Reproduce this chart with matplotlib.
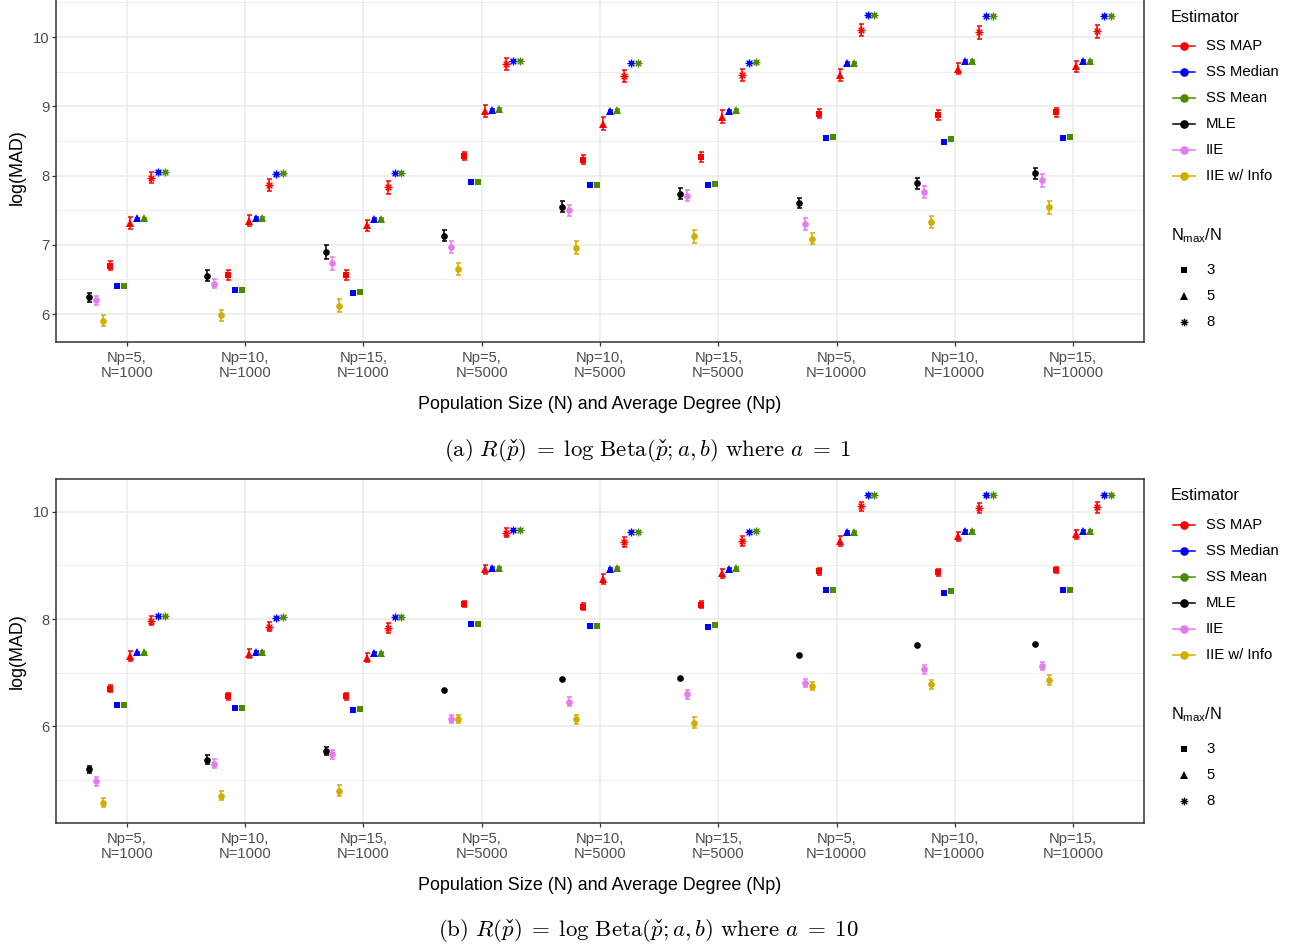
import numpy as np
import matplotlib
matplotlib.use("Agg")
import matplotlib.pyplot as plt
from matplotlib.lines import Line2D
from matplotlib.path import Path
from matplotlib.ticker import MultipleLocator

plt.rcParams["font.family"] = ["Liberation Sans", "DejaVu Sans"]

# mathtext has no \check accent out of the box; register the caron
try:
    import matplotlib._mathtext as _mt
    _mt.Parser._accent_map.setdefault("check", r"\check")
except (ImportError, AttributeError):
    pass

categories = ["Np=5,\nN=1000", "Np=10,\nN=1000", "Np=15,\nN=1000",
              "Np=5,\nN=5000", "Np=10,\nN=5000", "Np=15,\nN=5000",
              "Np=5,\nN=10000", "Np=10,\nN=10000", "Np=15,\nN=10000"]

# spectral-sum estimators (same runs in both settings), per N_max/N
ss_map_3 = [6.70, 6.56, 6.56, 8.28, 8.23, 8.27, 8.89, 8.87, 8.91]
ss_map_3_err = [0.065, 0.07, 0.07, 0.06, 0.07, 0.07, 0.065, 0.07, 0.06]
ss_median_3 = [6.40, 6.34, 6.30, 7.91, 7.87, 7.86, 8.54, 8.49, 8.54]
ss_mean_3 = [6.40, 6.35, 6.32, 7.91, 7.87, 7.88, 8.55, 8.53, 8.55]
ss_map_5 = [7.31, 7.35, 7.28, 8.93, 8.75, 8.85, 9.45, 9.54, 9.58]
ss_map_5_err = [0.085, 0.085, 0.08, 0.085, 0.09, 0.09, 0.09, 0.08, 0.08]
ss_median_5 = [7.38, 7.39, 7.37, 8.95, 8.93, 8.93, 9.62, 9.65, 9.65]
ss_mean_5 = [7.38, 7.39, 7.37, 8.96, 8.95, 8.95, 9.63, 9.65, 9.65]
ss_map_8 = [7.97, 7.86, 7.83, 9.61, 9.44, 9.45, 10.10, 10.07, 10.08]
ss_map_8_err = [0.08, 0.085, 0.09, 0.085, 0.09, 0.09, 0.09, 0.095, 0.10]
ss_median_8 = [8.05, 8.02, 8.03, 9.66, 9.63, 9.63, 10.32, 10.31, 10.31]
ss_mean_8 = [8.05, 8.03, 8.04, 9.66, 9.63, 9.64, 10.32, 10.31, 10.31]
ss_small_err = [0.012, 0.012, 0.012, 0.012, 0.012, 0.012, 0.012, 0.012, 0.012]

# (a) a = 1
mle_a = [6.24, 6.55, 6.90, 7.13, 7.55, 7.74, 7.60, 7.89, 8.03]
mle_a_err = [0.07, 0.08, 0.10, 0.08, 0.08, 0.075, 0.07, 0.08, 0.08]
iie_a = [6.20, 6.44, 6.73, 6.97, 7.50, 7.71, 7.30, 7.76, 7.93]
iie_a_err = [0.065, 0.07, 0.10, 0.09, 0.08, 0.08, 0.085, 0.09, 0.09]
info_a = [5.90, 5.98, 6.12, 6.65, 6.96, 7.12, 7.09, 7.33, 7.54]
info_a_err = [0.08, 0.08, 0.09, 0.08, 0.09, 0.10, 0.075, 0.09, 0.09]

# (b) a = 10
mle_b = [5.20, 5.38, 5.54, 6.67, 6.88, 6.90, 7.33, 7.52, 7.54]
mle_b_err = [0.07, 0.08, 0.075, 0.02, 0.02, 0.02, 0.02, 0.02, 0.02]
iie_b = [4.98, 5.30, 5.48, 6.14, 6.46, 6.60, 6.80, 7.06, 7.12]
iie_b_err = [0.085, 0.085, 0.085, 0.08, 0.085, 0.085, 0.075, 0.08, 0.075]
info_b = [4.58, 4.71, 4.80, 6.14, 6.13, 6.07, 6.75, 6.78, 6.86]
info_b_err = [0.08, 0.09, 0.10, 0.07, 0.08, 0.11, 0.075, 0.075, 0.09]

est_names = ["SS MAP", "SS Median", "SS Mean", "MLE", "IIE", "IIE w/ Info"]
est_colors = {"SS MAP": "#FF0000", "SS Median": "#0000FF", "SS Mean": "#4A8C00",
              "MLE": "#000000", "IIE": "#E67BF0", "IIE w/ Info": "#D1AE00"}
ratios = ["3", "5", "8"]

# R shape 8: a '+' laid over an 'x'
_d = np.sqrt(0.5)
ASTERISK = Path([(-1, 0), (1, 0), (0, -1), (0, 1),
                 (-_d, -_d), (_d, _d), (-_d, _d), (_d, -_d)],
                [Path.MOVETO, Path.LINETO] * 4)
MARKERS = {"circle": ("o", 4.8), "3": ("s", 4.6), "5": ("^", 5.6), "8": (ASTERISK, 5.8)}

W, H = 1298, 951


def series_for(mle, mle_err, iie, iie_err, info, info_err):
    return [
        ("MLE", "circle", mle, mle_err),
        ("IIE", "circle", iie, iie_err),
        ("IIE w/ Info", "circle", info, info_err),
        ("SS MAP", "3", ss_map_3, ss_map_3_err),
        ("SS Median", "3", ss_median_3, ss_small_err),
        ("SS Mean", "3", ss_mean_3, ss_small_err),
        ("SS MAP", "5", ss_map_5, ss_map_5_err),
        ("SS Median", "5", ss_median_5, ss_small_err),
        ("SS Mean", "5", ss_mean_5, ss_small_err),
        ("SS MAP", "8", ss_map_8, ss_map_8_err),
        ("SS Median", "8", ss_median_8, ss_small_err),
        ("SS Mean", "8", ss_mean_8, ss_small_err),
    ]


def marker_kw(shape, color):
    m, ms = MARKERS[shape]
    if shape == "8":
        return dict(marker=m, ms=ms, mec=color, mfc="none", mew=1.0)
    return dict(marker=m, ms=ms, mfc=color, mec=color, mew=0)


def draw_panel(ax, series, ylim, ystep):
    x = np.arange(1, len(categories) + 1)
    n = len(series)
    dodge = 0.7 / n
    for i, (name, shape, vals, err) in enumerate(series):
        xs = x + (i - (n - 1) / 2) * dodge
        c = est_colors[name]
        ax.errorbar(xs, vals, yerr=err, fmt="none", ecolor=c, elinewidth=1.1,
                    capsize=1.8, capthick=1.1, zorder=3)
        ax.plot(xs, vals, ls="none", zorder=4, **marker_kw(shape, c))

    ax.set_xlim(0.4, len(categories) + 0.6)
    ax.set_ylim(*ylim)
    ax.set_xticks(x)
    ax.set_xticklabels(categories, linespacing=1.1)
    ax.yaxis.set_major_locator(MultipleLocator(ystep))
    ax.yaxis.set_minor_locator(MultipleLocator(ystep / 2))
    ax.grid(which="major", color="#EBEBEB", lw=1.1, zorder=0)
    ax.grid(which="minor", axis="y", color="#EBEBEB", lw=0.6, zorder=0)
    ax.set_axisbelow(True)
    ax.tick_params(which="major", length=2.9, width=0.9, color="#333333",
                   labelsize=10.6, labelcolor="#4D4D4D")
    ax.tick_params(axis="x", which="major", pad=3.5)
    ax.tick_params(axis="y", which="major", pad=2)
    ax.tick_params(which="minor", length=0)
    for s in ax.spines.values():
        s.set_color("#333333")
        s.set_linewidth(1.1)
    ax.set_xlabel("Population Size (N) and Average Degree (Np)", fontsize=12.9, labelpad=11.5)
    ax.set_ylabel("log(MAD)", fontsize=12.9, labelpad=5)


def fx(px):
    return px / W


def fy(py):
    return 1 - py / H


def draw_legends(fig, off):
    # colour key for the estimators
    fig.text(fx(1171), fy(off + 17), "Estimator", fontsize=11.7, va="center")
    for k, name in enumerate(est_names):
        y = fy(off + 46 + 26 * k)
        c = est_colors[name]
        fig.add_artist(Line2D([fx(1173), fx(1184), fx(1195)], [y, y, y], color=c,
                              lw=1.1, marker="o", ms=5.2, markevery=[1],
                              transform=fig.transFigure))
        fig.text(fx(1206), y, name, fontsize=10.7, va="center")
    # shape key for N_max/N
    fig.text(fx(1171), fy(off + 236), r"N$_{\mathregular{max}}$/N", fontsize=11.7,
             va="center")
    for k, r in enumerate(ratios):
        y = fy(off + 270 + 26 * k)
        kw = marker_kw(r, "black")
        kw["ms"] *= 0.95
        fig.add_artist(Line2D([fx(1184)], [y], ls="none", transform=fig.transFigure, **kw))
        fig.text(fx(1206), y, r, fontsize=10.7, va="center")


fig = plt.figure(figsize=(12.98, 9.51), dpi=100)

ax_a = fig.add_axes([fx(56), fy(342), fx(1088), 350 / H])
draw_panel(ax_a, series_for(mle_a, mle_a_err, iie_a, iie_a_err, info_a, info_a_err),
           (5.596, 10.65), 1)
draw_legends(fig, 0)

ax_b = fig.add_axes([fx(56), fy(822.7), fx(1088), 343.7 / H])
draw_panel(ax_b, series_for(mle_b, mle_b_err, iie_b, iie_b_err, info_b, info_b_err),
           (4.204, 10.61), 2)
draw_legends(fig, 479)

caption_a = (r"$\mathrm{(a)}\ R(\check{p})\;=\;\log\,\mathrm{Beta}(\check{p}; a, b)"
             r"\ \mathrm{where}\ a\;=\;1$")
caption_b = (r"$\mathrm{(b)}\ R(\check{p})\;=\;\log\,\mathrm{Beta}(\check{p}; a, b)"
             r"\ \mathrm{where}\ a\;=\;10$")
fig.text(fx(648), fy(451), caption_a, ha="center", va="center", fontsize=16.5,
         math_fontfamily="cm")
fig.text(fx(648), fy(931), caption_b, ha="center", va="center", fontsize=16.5,
         math_fontfamily="cm")

fig.savefig("out.png", dpi=100)
